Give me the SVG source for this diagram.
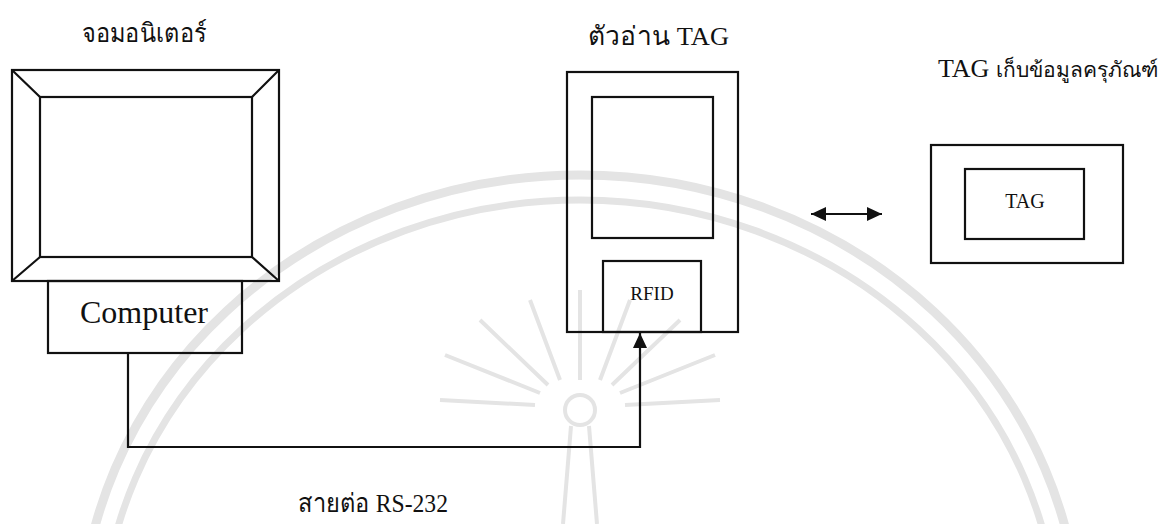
<svg xmlns="http://www.w3.org/2000/svg" width="1160" height="524" viewBox="0 0 1160 524">
  <style>
    .box { fill: none; stroke: #111; stroke-width: 2.2; }
    .wire { fill: none; stroke: #111; stroke-width: 2.2; }
    .title { font-family: "Liberation Serif", "Noto Sans", "DejaVu Sans", serif; font-size: 26px; fill: #111; }
    .label { font-family: "Liberation Serif", serif; fill: #111; text-anchor: middle; }
    .wm { fill: none; stroke: #e4e4e4; }
  </style>
  <defs>
    <marker id="head" viewBox="0 0 15 14" refX="15" refY="7" markerWidth="15" markerHeight="14" markerUnits="userSpaceOnUse" orient="auto-start-reverse">
      <path d="M0,0 L15,7 L0,14 Z" fill="#111"/>
    </marker>
  </defs>
  <rect width="1160" height="524" fill="#ffffff"/>

  <!-- faint emblem in the background -->
  <g id="emblem">
    <ellipse class="wm" cx="580" cy="640" rx="500" ry="465" stroke-width="9"/>
    <ellipse class="wm" cx="580" cy="640" rx="478" ry="440" stroke-width="7"/>
    <g class="wm" stroke-width="4">
      <path d="M580,290 V380 M530,300 L560,380 M630,300 L600,380 M480,320 L548,385 M680,320 L612,385 M445,355 L540,393 M715,355 L620,393 M440,400 L535,405 M720,400 L625,405"/>
    </g>
    <circle class="wm" cx="580" cy="410" r="15" stroke-width="4"/>
    <path class="wm" stroke-width="4" d="M571,426 L563,524 M589,426 L597,524"/>
  </g>

  <!-- monitor -->
  <g id="monitor">
    <text class="title" x="82" y="42" textLength="125" lengthAdjust="spacingAndGlyphs">จอมอนิเตอร์</text>
    <rect class="box" x="12" y="70" width="267" height="211"/>
    <rect class="box" x="40" y="97" width="212" height="160"/>
    <path class="box" d="M12,70 L40,97 M279,70 L252,97 M12,281 L40,257 M279,281 L252,257"/>
  </g>

  <!-- computer -->
  <g id="computer">
    <rect class="box" x="48" y="281" width="194" height="72"/>
    <text class="label" x="144" y="323" font-size="32">Computer</text>
  </g>

  <!-- tag reader -->
  <g id="reader">
    <text class="title" x="588" y="45" textLength="141" lengthAdjust="spacingAndGlyphs">ตัวอ่าน TAG</text>
    <rect class="box" x="567" y="72" width="171" height="260"/>
    <rect class="box" x="592" y="97" width="121" height="141"/>
  </g>

  <g id="rfid">
    <rect class="box" x="603" y="261" width="98" height="71"/>
    <text class="label" x="652" y="300" font-size="19">RFID</text>
  </g>

  <!-- tag -->
  <g id="tag">
    <text class="title" x="938" y="77">TAG <tspan font-size="21">เก็บข้อมูลครุภัณฑ์</tspan></text>
    <rect class="box" x="931" y="145" width="192" height="118"/>
    <rect class="box" x="965" y="169" width="119" height="70"/>
    <text class="label" x="1025" y="208" font-size="20">TAG</text>
  </g>

  <!-- connectors -->
  <g id="connectors">
    <path class="wire" d="M128,353 V447 H640 V333" marker-end="url(#head)"/>
    <line class="wire" x1="811" y1="214" x2="882" y2="214" stroke-width="2.8" marker-start="url(#head)" marker-end="url(#head)"/>
    <text class="title" x="298" y="512" textLength="150" lengthAdjust="spacingAndGlyphs">สายต่อ RS-232</text>
  </g>
</svg>
